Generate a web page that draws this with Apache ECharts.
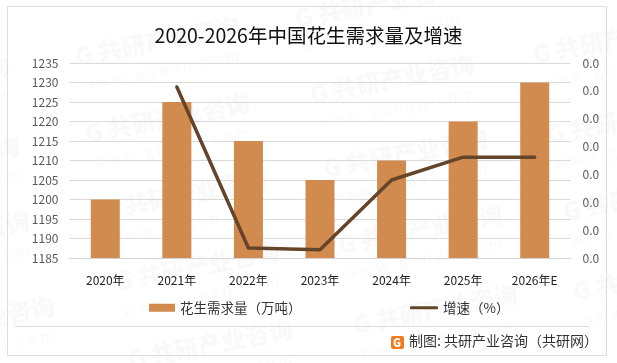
<!DOCTYPE html>
<html><head><meta charset="utf-8">
<style>html,body{margin:0;padding:0;background:#fff}#c{width:617px;height:363px}</style>
<script src="https://cdn.jsdelivr.net/npm/echarts@6/dist/echarts.min.js"></script>
</head><body><div id="c"></div>
<script>
const categories=['2020年','2021年','2022年','2023年','2024年','2025年','2026年E'];
const demand=[1200,1225,1215,1205,1210,1220,1230];
const growth=[null,0.0307,0.0018,0.0015,0.014,0.0181,0.0181];
const titleText='2020-2026年中国花生需求量及增速';
const demandName='花生需求量（万吨）';
const growthName='增速（%）';
const sourceText='制图: 共研产业咨询（共研网）';
const F='"Noto Sans CJK SC","Noto Sans",sans-serif';
const wmSpots=[[85,55],[95,132],[112,208],[125,280],[138,358],[305,17],[320,93],[333,167],[348,243],[363,323],[543,53],[557,133],[573,210],[583,290],[-145,95],[-135,175],[-125,250],[-100,335]];
const wm=[];
wmSpots.forEach(p=>{
 wm.push({type:'group',x:p[0],y:p[1],rotation:0.19,silent:true,children:[
  {type:'text',style:{x:-10,y:0,text:'G 共研产业咨询',verticalAlign:'middle',font:'900 24px '+F,fill:'rgba(110,110,110,0.042)'}},
  {type:'text',style:{x:-8,y:29,text:'w w w . g o n y n . c o m',verticalAlign:'middle',font:'400 15px '+F,fill:'rgba(110,110,110,0.042)'}}
 ]});
});
const chart=echarts.init(document.getElementById('c'),null,{renderer:'canvas'});
chart.setOption({
 animation:false,backgroundColor:'#fff',
 title:{text:titleText,left:'center',top:21,textStyle:{fontFamily:F,fontSize:19.5,fontWeight:400,color:'#111'}},
 grid:{left:69.5,right:46.5,top:63,bottom:105},
 legend:[
  {left:144,top:296,itemWidth:26,itemHeight:8,itemGap:3,textStyle:{fontFamily:F,fontSize:13.5,color:'#333'},
   data:[{name:demandName,icon:'rect'}]},
  {left:405,top:296,itemWidth:28,itemHeight:3,itemGap:3,textStyle:{fontFamily:F,fontSize:13.5,color:'#333'},
   data:[{name:growthName,icon:'roundRect'}]}
 ],
 xAxis:{type:'category',data:categories,axisTick:{show:false},
  axisLine:{lineStyle:{color:'#d4d4d4',width:1}},
  axisLabel:{margin:16,fontFamily:F,fontSize:12,color:'#222'}},
 yAxis:[
  {type:'value',min:1185,max:1235,interval:5,axisLine:{show:false},axisTick:{show:false},
   splitLine:{lineStyle:{color:'#d9d9d9',width:1}},
   axisLabel:{margin:11,fontFamily:F,fontSize:12,color:'#595959',formatter:v=>String(v)}},
  {type:'value',min:0,max:0.035,interval:0.005,axisLine:{show:false},axisTick:{show:false},splitLine:{show:false},
   axisLabel:{margin:12,fontFamily:F,fontSize:12,color:'#595959',formatter:v=>v.toFixed(1)}}
 ],
 series:[
  {name:demandName,type:'bar',data:demand,barWidth:29,itemStyle:{color:'#d18b4e'},z:2},
  {name:growthName,type:'line',yAxisIndex:1,data:growth,symbol:'none',showSymbol:false,
   lineStyle:{color:'#654529',width:3.5,cap:'round',join:'round'},itemStyle:{color:'#654529'},z:3}
 ],
 graphic:{elements:wm.concat([
  {type:'rect',shape:{x:7.5,y:6.5,width:599,height:349},style:{fill:'none',stroke:'#dcdcdc',lineWidth:1},silent:true},
  {type:'line',shape:{x1:15,y1:326.5,x2:589,y2:326.5},style:{stroke:'#dcdcdc',lineWidth:1},silent:true},
  {type:'rect',shape:{x:391,y:336,width:13,height:13,r:2},style:{fill:'#f47a20'},silent:true},
  {type:'text',x:393,y:337,style:{text:'G',font:'900 11px '+F,fill:'#fff'},silent:true},
  {type:'text',x:409,y:334,style:{text:sourceText,font:'400 14px '+F,fill:'#333'},silent:true}
 ])}
});
</script></body></html>
